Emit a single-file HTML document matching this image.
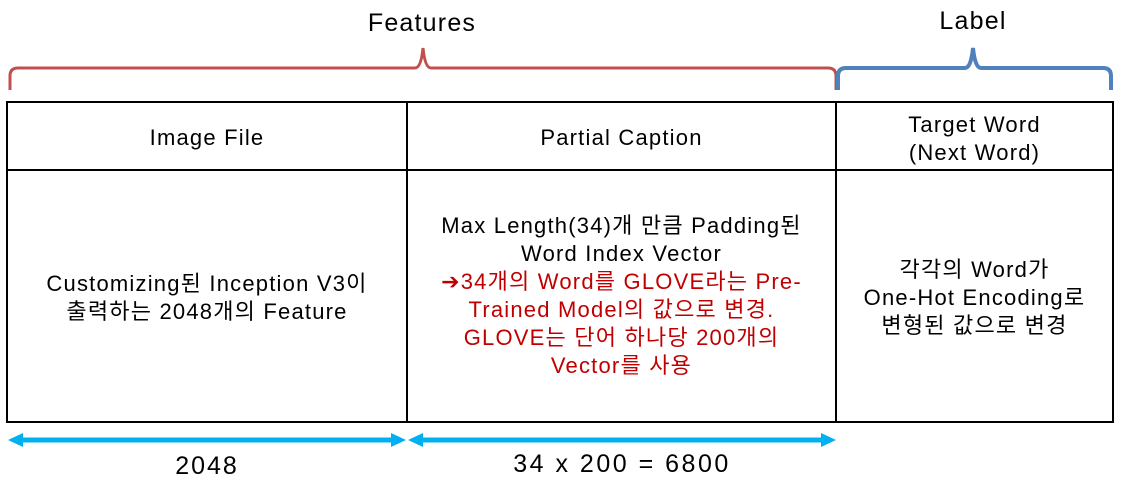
<!DOCTYPE html>
<html><head><meta charset="utf-8"><style>
body{margin:0;width:1123px;height:488px;background:#fff;position:relative;font-family:"Liberation Sans","Noto Sans CJK KR",sans-serif;overflow:hidden}
.t{position:absolute;text-align:center;font-size:22px;line-height:28px;color:#000;letter-spacing:1.2px;white-space:nowrap}
.r{color:#c00000}
</style></head><body>
<svg width="1123" height="488" style="position:absolute;left:0;top:0">
<path d="M10,90 L10,76 Q10,68 18,68 L415,68 Q421,68 423,48 Q425,68 431,68 L828,68 Q836,68 836,76 L836,90" fill="none" stroke="#c0504d" stroke-width="3"/>
<path d="M838,90 L838,76 Q838,68 846,68 L965,68 Q971,68 973,48 Q975,68 981,68 L1103,68 Q1111,68 1111,76 L1111,90" fill="none" stroke="#4f81bd" stroke-width="4"/>
<rect x="7" y="102" width="1106" height="320" fill="none" stroke="#000" stroke-width="2"/>
<line x1="407" y1="102" x2="407" y2="422" stroke="#000" stroke-width="2"/>
<line x1="836" y1="102" x2="836" y2="422" stroke="#000" stroke-width="2"/>
<line x1="7" y1="170" x2="1113" y2="170" stroke="#000" stroke-width="2"/>
<g fill="#00b0f0" stroke="#00b0f0">
<line x1="18" y1="440" x2="396" y2="440" stroke-width="5"/>
<polygon points="8,440 23,433 23,447" stroke="none"/>
<polygon points="406,440 391,433 391,447" stroke="none"/>
<line x1="418" y1="440" x2="826" y2="440" stroke-width="5"/>
<polygon points="408,440 423,433 423,447" stroke="none"/>
<polygon points="836,440 821,433 821,447" stroke="none"/>
</g>
</svg>
<div class="t" style="left:322px;top:9px;width:200px;font-size:25px">Features</div>
<div class="t" style="left:873px;top:7px;width:200px;font-size:25px">Label</div>
<div class="t" style="left:7px;top:124px;width:400px">Image File</div>
<div class="t" style="left:407px;top:124px;width:429px">Partial Caption</div>
<div class="t" style="left:836px;top:111px;width:277px">Target Word<br>(Next Word)</div>
<div class="t" style="left:7px;top:270px;width:400px">Customizing된 Inception V3이<br>출력하는 2048개의 Feature</div>
<div class="t" style="left:407px;top:212px;width:429px">Max Length(34)개 만큼 Padding된<br>Word Index Vector<br><span class="r">➔34개의 Word를 GLOVE라는 Pre-<br>Trained Model의 값으로 변경.<br>GLOVE는 단어 하나당 200개의<br>Vector를 사용</span></div>
<div class="t" style="left:836px;top:256px;width:277px">각각의 Word가<br>One-Hot Encoding로<br>변형된 값으로 변경</div>
<div class="t" style="left:107px;top:452px;width:200px;font-size:25px;letter-spacing:2px">2048</div>
<div class="t" style="left:422px;top:450px;width:400px;font-size:25px;letter-spacing:2.5px">34 x 200 = 6800</div>
</body></html>
